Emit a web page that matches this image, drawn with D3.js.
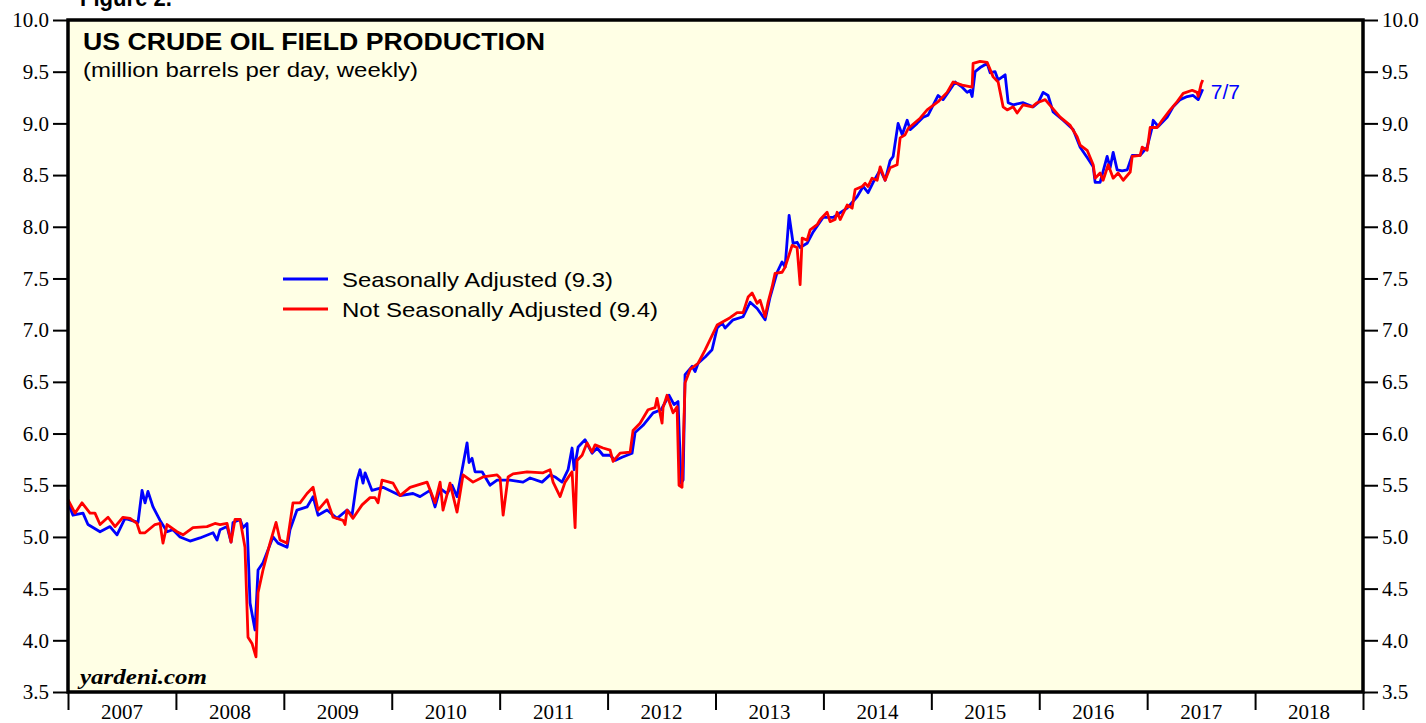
<!DOCTYPE html>
<html>
<head>
<meta charset="utf-8">
<script src="https://cdn.jsdelivr.net/npm/d3@7"></script>
<style>
  body { margin: 0; background: #fff; }
  .tick text { font-family: "Liberation Serif", "Times New Roman", serif; font-size: 21px; fill: #000; }
  .tick line { stroke: #000; stroke-width: 2; }
</style>
</head>
<body>
<div id="chart"></div>
<script>
// weekly crude oil field production (decimal year, mb/d)
var saDates = [2007.000, 2007.046, 2007.139, 2007.185, 2007.297, 2007.389, 2007.454, 2007.528, 2007.649, 2007.686,
  2007.714, 2007.741, 2007.788, 2007.853, 2007.918, 2007.973, 2008.038, 2008.131, 2008.223, 2008.344,
  2008.381, 2008.409, 2008.474, 2008.511, 2008.529, 2008.594, 2008.622, 2008.659, 2008.687, 2008.733,
  2008.761, 2008.807, 2008.900, 2008.946, 2009.030, 2009.057, 2009.122, 2009.215, 2009.271, 2009.317,
  2009.400, 2009.493, 2009.586, 2009.632, 2009.678, 2009.706, 2009.734, 2009.753, 2009.817, 2009.919,
  2010.077, 2010.197, 2010.262, 2010.355, 2010.401, 2010.448, 2010.513, 2010.559, 2010.605, 2010.661,
  2010.698, 2010.716, 2010.744, 2010.772, 2010.837, 2010.911, 2010.976, 2011.096, 2011.217, 2011.282,
  2011.393, 2011.467, 2011.513, 2011.578, 2011.634, 2011.671, 2011.690, 2011.727, 2011.791, 2011.856,
  2011.903, 2011.958, 2012.023, 2012.070, 2012.134, 2012.227, 2012.255, 2012.329, 2012.422, 2012.496,
  2012.570, 2012.616, 2012.653, 2012.681, 2012.700, 2012.718, 2012.783, 2012.811, 2012.839, 2012.904,
  2012.968, 2013.015, 2013.061, 2013.089, 2013.163, 2013.256, 2013.321, 2013.386, 2013.460, 2013.506,
  2013.571, 2013.617, 2013.645, 2013.682, 2013.719, 2013.756, 2013.784, 2013.849, 2013.905, 2013.997,
  2014.090, 2014.220, 2014.312, 2014.368, 2014.414, 2014.461, 2014.526, 2014.572, 2014.618, 2014.646,
  2014.692, 2014.730, 2014.776, 2014.804, 2014.868, 2014.924, 2014.970, 2015.063, 2015.109, 2015.156,
  2015.221, 2015.286, 2015.332, 2015.360, 2015.378, 2015.406, 2015.452, 2015.517, 2015.545, 2015.591,
  2015.619, 2015.684, 2015.712, 2015.758, 2015.851, 2015.943, 2015.990, 2016.036, 2016.082, 2016.129,
  2016.221, 2016.314, 2016.379, 2016.444, 2016.500, 2016.518, 2016.564, 2016.629, 2016.657, 2016.685,
  2016.722, 2016.768, 2016.815, 2016.861, 2016.935, 2017.000, 2017.046, 2017.056, 2017.102, 2017.185,
  2017.241, 2017.306, 2017.371, 2017.426, 2017.473, 2017.515];
var saValues = [5.33, 5.21, 5.23, 5.12, 5.05, 5.10, 5.02, 5.18, 5.14, 5.45,
  5.33, 5.44, 5.29, 5.16, 5.05, 5.07, 5.00, 4.96, 4.99, 5.04,
  4.97, 5.07, 5.10, 4.95, 5.14, 5.17, 5.09, 5.13, 4.36, 4.10,
  4.68, 4.75, 5.00, 4.94, 4.90, 5.07, 5.26, 5.29, 5.39, 5.21,
  5.26, 5.18, 5.26, 5.21, 5.55, 5.65, 5.52, 5.62, 5.45, 5.48,
  5.40, 5.42, 5.39, 5.45, 5.29, 5.47, 5.42, 5.50, 5.39, 5.70,
  5.91, 5.72, 5.76, 5.63, 5.63, 5.50, 5.55, 5.55, 5.53, 5.57,
  5.53, 5.60, 5.58, 5.53, 5.65, 5.86, 5.65, 5.87, 5.94, 5.81,
  5.86, 5.79, 5.79, 5.74, 5.77, 5.81, 6.01, 6.08, 6.20, 6.23,
  6.37, 6.28, 6.31, 5.52, 5.55, 6.57, 6.65, 6.60, 6.68, 6.74,
  6.81, 7.02, 7.07, 7.02, 7.10, 7.13, 7.27, 7.21, 7.10, 7.32,
  7.56, 7.66, 7.61, 8.11, 7.84, 7.85, 7.80, 7.84, 7.95, 8.09,
  8.09, 8.18, 8.29, 8.39, 8.33, 8.43, 8.55, 8.45, 8.64, 8.68,
  9.00, 8.89, 9.03, 8.94, 9.00, 9.06, 9.08, 9.27, 9.23, 9.30,
  9.40, 9.35, 9.30, 9.32, 9.26, 9.50, 9.54, 9.58, 9.49, 9.50,
  9.42, 9.47, 9.20, 9.18, 9.20, 9.16, 9.20, 9.30, 9.27, 9.11,
  9.03, 8.94, 8.77, 8.67, 8.58, 8.43, 8.43, 8.68, 8.57, 8.72,
  8.55, 8.54, 8.55, 8.69, 8.69, 8.77, 8.96, 9.03, 8.97, 9.06,
  9.16, 9.23, 9.26, 9.27, 9.23, 9.33];

var nsaDates = [2007.000, 2007.065, 2007.130, 2007.204, 2007.250, 2007.297, 2007.371, 2007.436, 2007.510, 2007.575,
  2007.639, 2007.667, 2007.714, 2007.806, 2007.853, 2007.880, 2007.918, 2008.010, 2008.066, 2008.158,
  2008.288, 2008.362, 2008.409, 2008.474, 2008.511, 2008.548, 2008.594, 2008.640, 2008.668, 2008.705,
  2008.742, 2008.761, 2008.807, 2008.872, 2008.928, 2008.965, 2009.030, 2009.085, 2009.150, 2009.215,
  2009.271, 2009.317, 2009.400, 2009.456, 2009.549, 2009.567, 2009.586, 2009.641, 2009.725, 2009.799,
  2009.845, 2009.873, 2009.910, 2010.012, 2010.077, 2010.170, 2010.327, 2010.401, 2010.448, 2010.475,
  2010.540, 2010.605, 2010.661, 2010.753, 2010.846, 2010.976, 2011.004, 2011.032, 2011.078, 2011.124,
  2011.254, 2011.402, 2011.467, 2011.495, 2011.560, 2011.606, 2011.671, 2011.699, 2011.717, 2011.764,
  2011.810, 2011.856, 2011.884, 2011.958, 2012.023, 2012.051, 2012.116, 2012.209, 2012.236, 2012.301,
  2012.375, 2012.440, 2012.458, 2012.505, 2012.514, 2012.551, 2012.607, 2012.644, 2012.662, 2012.690,
  2012.718, 2012.765, 2012.839, 2012.904, 2013.015, 2013.135, 2013.200, 2013.256, 2013.302, 2013.339,
  2013.386, 2013.413, 2013.460, 2013.487, 2013.525, 2013.552, 2013.617, 2013.645, 2013.710, 2013.756,
  2013.784, 2013.803, 2013.849, 2013.877, 2013.942, 2013.970, 2014.034, 2014.062, 2014.108, 2014.127,
  2014.155, 2014.220, 2014.266, 2014.294, 2014.359, 2014.387, 2014.414, 2014.451, 2014.498, 2014.526,
  2014.572, 2014.618, 2014.683, 2014.711, 2014.757, 2014.785, 2014.896, 2014.961, 2015.063, 2015.146,
  2015.202, 2015.286, 2015.378, 2015.387, 2015.452, 2015.517, 2015.573, 2015.619, 2015.665, 2015.703,
  2015.758, 2015.795, 2015.851, 2015.934, 2015.981, 2016.055, 2016.120, 2016.194, 2016.287, 2016.351,
  2016.379, 2016.444, 2016.500, 2016.518, 2016.564, 2016.592, 2016.639, 2016.685, 2016.731, 2016.778,
  2016.843, 2016.861, 2016.935, 2016.954, 2017.000, 2017.028, 2017.093, 2017.139, 2017.213, 2017.278,
  2017.334, 2017.417, 2017.463, 2017.473, 2017.500, 2017.515];
var nsaValues = [5.36, 5.23, 5.33, 5.23, 5.23, 5.12, 5.19, 5.10, 5.19, 5.18,
  5.13, 5.04, 5.04, 5.12, 5.13, 4.94, 5.12, 5.05, 5.02, 5.09,
  5.10, 5.13, 5.12, 5.13, 4.95, 5.17, 5.17, 4.90, 4.03, 3.97,
  3.84, 4.46, 4.68, 4.94, 5.14, 4.97, 4.94, 5.33, 5.33, 5.42,
  5.48, 5.26, 5.36, 5.19, 5.16, 5.12, 5.26, 5.18, 5.31, 5.38,
  5.38, 5.33, 5.55, 5.52, 5.40, 5.48, 5.53, 5.33, 5.53, 5.26,
  5.52, 5.24, 5.60, 5.53, 5.58, 5.60, 5.57, 5.21, 5.58, 5.61,
  5.63, 5.62, 5.65, 5.53, 5.39, 5.53, 5.63, 5.09, 5.74, 5.79,
  5.91, 5.82, 5.89, 5.86, 5.84, 5.73, 5.81, 5.82, 6.03, 6.10,
  6.23, 6.25, 6.34, 6.10, 6.25, 6.37, 6.20, 6.26, 5.50, 5.48,
  6.49, 6.62, 6.68, 6.81, 7.05, 7.12, 7.17, 7.17, 7.32, 7.36,
  7.26, 7.29, 7.13, 7.27, 7.42, 7.55, 7.56, 7.61, 7.82, 7.80,
  7.44, 7.89, 7.87, 7.97, 8.02, 8.07, 8.14, 8.05, 8.07, 8.14,
  8.07, 8.21, 8.18, 8.36, 8.39, 8.42, 8.39, 8.47, 8.45, 8.58,
  8.45, 8.57, 8.60, 8.86, 8.89, 8.95, 9.05, 9.13, 9.21, 9.30,
  9.40, 9.37, 9.35, 9.58, 9.60, 9.59, 9.45, 9.40, 9.16, 9.13,
  9.16, 9.10, 9.18, 9.16, 9.20, 9.23, 9.15, 9.06, 8.98, 8.87,
  8.79, 8.74, 8.60, 8.47, 8.52, 8.45, 8.60, 8.47, 8.52, 8.45,
  8.53, 8.68, 8.69, 8.77, 8.74, 8.96, 8.96, 9.03, 9.13, 9.21,
  9.29, 9.32, 9.30, 9.26, 9.38, 9.42];

var yearTicks = [2007, 2008, 2009, 2010, 2011, 2012, 2013, 2014, 2015, 2016, 2017, 2018, 2019];
var yearLabels = ["2007", "2008", "2009", "2010", "2011", "2012", "2013", "2014", "2015", "2016", "2017", "2018"];
var valueTicks = [3.5, 4.0, 4.5, 5.0, 5.5, 6.0, 6.5, 7.0, 7.5, 8.0, 8.5, 9.0, 9.5, 10.0];
var seriesNames = ["Seasonally Adjusted (9.3)", "Not Seasonally Adjusted (9.4)"];
var seriesColors = ["#0000ff", "#ff0000"];

var svgWidth = 1426;
var svgHeight = 723;
var margin = { top: 20, right: 63, bottom: 31, left: 68 };
var width = svgWidth - margin.left - margin.right;
var height = svgHeight - margin.top - margin.bottom;

var svg = d3.select("#chart")
  .append("svg")
  .attr("width", svgWidth)
  .attr("height", svgHeight);

var chartGroup = svg.append("g")
  .attr("transform", `translate(${margin.left}, ${margin.top})`);

var x = d3.scaleLinear().domain([2007, 2019]).range([0, width]);
var y = d3.scaleLinear().domain([3.5, 10]).range([height, 0]);

// plot background
chartGroup.append("rect")
  .attr("width", width)
  .attr("height", height)
  .attr("fill", "#ffffe5");

// axes
var fmt = d3.format(".1f");
chartGroup.append("g")
  .call(d3.axisLeft(y).tickValues(valueTicks).tickFormat(fmt).tickSize(15).tickPadding(4))
  .call(g => g.select(".domain").remove());

chartGroup.append("g")
  .attr("transform", `translate(${width}, 0)`)
  .call(d3.axisRight(y).tickValues(valueTicks).tickFormat(fmt).tickSize(15).tickPadding(4))
  .call(g => g.select(".domain").remove());

chartGroup.append("g")
  .attr("transform", `translate(0, ${height})`)
  .call(d3.axisBottom(x).tickValues(yearTicks).tickFormat("").tickSize(18))
  .call(g => g.select(".domain").remove())
  .call(g => g.selectAll(".tick line").attr("stroke-width", 3));

chartGroup.append("g")
  .selectAll("text")
  .data(yearLabels)
  .enter()
  .append("text")
  .attr("x", d => x(+d + 0.5))
  .attr("y", height + 27)
  .attr("text-anchor", "middle")
  .attr("font-family", "Liberation Serif, Times New Roman, serif")
  .attr("font-size", 21)
  .text(d => d);

// lines
var line = d3.line()
  .x(d => x(d[0]))
  .y(d => y(d[1]));

var sa = d3.zip(saDates, saValues);
var nsa = d3.zip(nsaDates, nsaValues);

chartGroup.append("path")
  .datum(sa)
  .attr("fill", "none")
  .attr("stroke", seriesColors[0])
  .attr("stroke-width", 2.8)
  .attr("stroke-linejoin", "round")
  .attr("d", line);

chartGroup.append("path")
  .datum(nsa)
  .attr("fill", "none")
  .attr("stroke", seriesColors[1])
  .attr("stroke-width", 2.8)
  .attr("stroke-linejoin", "round")
  .attr("d", line);

// frame
chartGroup.append("rect")
  .attr("width", width)
  .attr("height", height)
  .attr("fill", "none")
  .attr("stroke", "#000")
  .attr("stroke-width", 3.5);

// titles
svg.append("text")
  .attr("x", 80)
  .attr("y", 6)
  .attr("font-family", "Liberation Sans, Arial, sans-serif")
  .attr("font-weight", "bold")
  .attr("font-size", 24)
  .attr("textLength", 92)
  .attr("lengthAdjust", "spacingAndGlyphs")
  .text("Figure 2.");

chartGroup.append("text")
  .attr("x", 15)
  .attr("y", 30)
  .attr("font-family", "Liberation Sans, Arial, sans-serif")
  .attr("font-weight", "bold")
  .attr("font-size", 24)
  .attr("textLength", 462)
  .attr("lengthAdjust", "spacingAndGlyphs")
  .text("US CRUDE OIL FIELD PRODUCTION");

chartGroup.append("text")
  .attr("x", 15)
  .attr("y", 57)
  .attr("font-family", "Liberation Sans, Arial, sans-serif")
  .attr("font-size", 21)
  .attr("textLength", 335)
  .attr("lengthAdjust", "spacingAndGlyphs")
  .text("(million barrels per day, weekly)");

// legend
var legendWidths = [271, 316];
var legend = chartGroup.append("g")
  .attr("transform", "translate(215, 259)");

legend.selectAll("line")
  .data(seriesNames)
  .enter()
  .append("line")
  .attr("x1", 0)
  .attr("x2", 45)
  .attr("y1", (d, i) => i * 30)
  .attr("y2", (d, i) => i * 30)
  .attr("stroke", (d, i) => seriesColors[i])
  .attr("stroke-width", 2.8);

legend.selectAll("text")
  .data(seriesNames)
  .enter()
  .append("text")
  .attr("x", 59)
  .attr("y", (d, i) => i * 30 + 8)
  .attr("font-family", "Liberation Sans, Arial, sans-serif")
  .attr("font-size", 21)
  .attr("textLength", (d, i) => legendWidths[i])
  .attr("lengthAdjust", "spacingAndGlyphs")
  .text(d => d);

// last-date label
chartGroup.append("text")
  .attr("x", x(saDates[saDates.length - 1]) + 8)
  .attr("y", y(9.3) + 7)
  .attr("font-family", "Liberation Sans, Arial, sans-serif")
  .attr("font-size", 21)
  .attr("fill", "#0000ff")
  .text("7/7");

// source
chartGroup.append("text")
  .attr("x", 12)
  .attr("y", height - 8)
  .attr("font-family", "Liberation Serif, Times New Roman, serif")
  .attr("font-weight", "bold")
  .attr("font-style", "italic")
  .attr("font-size", 20)
  .attr("textLength", 127)
  .attr("lengthAdjust", "spacingAndGlyphs")
  .text("yardeni.com");
</script>
</body>
</html>
